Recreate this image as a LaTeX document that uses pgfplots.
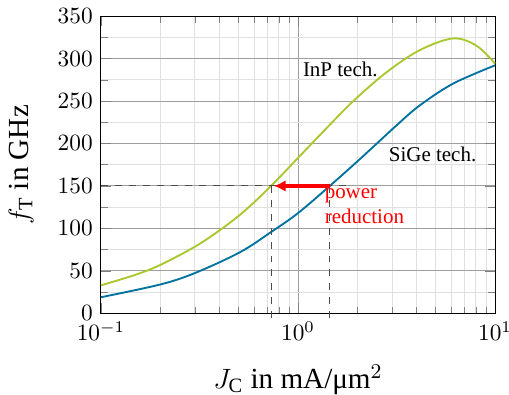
\documentclass[border=0pt]{standalone}
\usepackage{fontspec}
\setmainfont{Liberation Serif}
\usepackage{pgfplots}
\pgfplotsset{compat=1.18}
\usetikzlibrary{arrows.meta}
\definecolor{inpgreen}{RGB}{168,200,45}
\definecolor{sigeblue}{RGB}{0,114,160}
\begin{document}
\begin{tikzpicture}
\begin{axis}[
  scale only axis,
  width=169pt, height=127.5pt,
  xmode=log,
  xmin=0.1, xmax=10,
  ymin=0, ymax=350,
  ytick={0,50,...,350},
  minor y tick num=1,
  grid=both,
  major grid style={black!38},
  minor grid style={black!12},
  xlabel={$J_\mathrm{C}$ in mA/μm$^2$},
  ylabel={$f_\mathrm{T}$ in GHz},
  label style={font=\fontsize{12.5}{15}\selectfont},
  xlabel style={at={(axis description cs:0.5,-0.2525)}, anchor=base},
  ylabel style={at={(axis description cs:-0.185,0.5)}, anchor=base, rotate=0},
  clip=false,
]
\coordinate (bl) at (rel axis cs:0,0);
\coordinate (tr) at (rel axis cs:1,1);
\addplot[inpgreen, thick, smooth, tension=0.55] coordinates {
(0.1,33) (0.15,45.5) (0.2,57) (0.3,78.5) (0.41,99.5) (0.538,121) (0.73,150)
(1.0,183) (1.45,222) (1.91,250) (2.82,284) (4.16,310) (6.14,323.7)
(8.07,315) (10,294)
};
\addplot[sigeblue, thick, smooth, tension=0.55] coordinates {
(0.1,19) (0.2,34) (0.3,47.5) (0.508,72) (0.733,96) (1.0,118) (1.45,150)
(2.07,182) (3.17,221.5) (4.16,245) (6.14,270.6) (10,292)
};
\addplot[black!70, dashed, thin] coordinates {(0.1,150) (1.8,150)};
\addplot[black!70, dashed, thin] coordinates {(0.73,-6) (0.73,158)};
\addplot[black!70, dashed, thin] coordinates {(1.45,-6) (1.45,153)};
\addplot[red, line width=1.4pt, -{Latex[length=5pt,width=5pt]}] coordinates {(1.45,150) (0.755,150)};
\node[font=\small] at (axis cs:1.64,287.5) {InP tech.};
\node[font=\small] at (axis cs:4.82,187) {SiGe tech.};
\node[font=\small, text=red, anchor=north west, align=left, inner sep=0pt] at (axis cs:1.36,148) {power\\reduction};
\end{axis}
\pgfresetboundingbox
\path[use as bounding box] ([shift={(-43.3pt,-34.8pt)}]bl) rectangle ([shift={(6pt,6.9pt)}]tr);
\end{tikzpicture}
\end{document}
